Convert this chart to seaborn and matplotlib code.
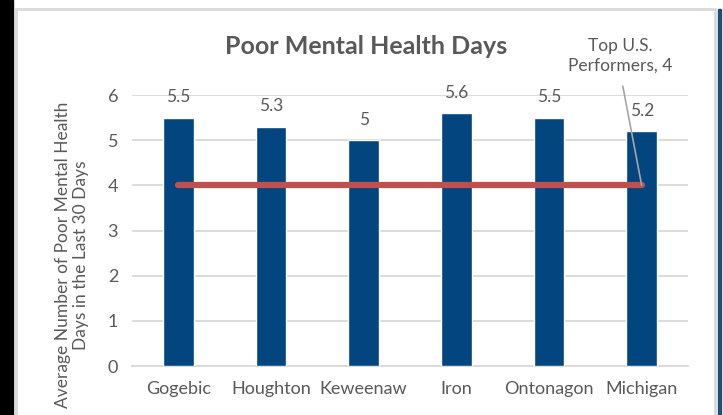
import matplotlib
matplotlib.use("Agg")
import matplotlib.pyplot as plt
import seaborn as sns
import pandas as pd
from matplotlib.patches import Rectangle

counties = ["Gogebic", "Houghton", "Keweenaw", "Iron", "Ontonagon", "Michigan"]
values = [5.5, 5.3, 5.0, 5.6, 5.5, 5.2]
value_labels = ["5.5", "5.3", "5", "5.6", "5.5", "5.2"]
benchmark = 4
benchmark_label = "Top U.S.\nPerformers, 4"
yticks = [0, 1, 2, 3, 4, 5, 6]
title = "Poor Mental Health Days"
ylabel = "Average Number of Poor Mental Health\nDays in the Last 30 Days"

BAR = "#02457F"
RED = "#C0504D"
TXT = "#595959"
GRID = "#D9D9D9"

sns.set_theme(style="white")
plt.rcParams["font.family"] = ["Lato", "DejaVu Sans"]

fig = plt.figure(figsize=(7.23, 4.15), dpi=100)
fig.patch.set_facecolor("white")
# frame decorations
fig.add_artist(Rectangle((0, 0), 13/723, 1, transform=fig.transFigure, color="black", zorder=0))
fig.add_artist(Rectangle((16/723, -0.05), (715-16)/723, 1.05 - 9/415, transform=fig.transFigure,
                         fill=False, edgecolor="#D9D9D9", linewidth=2, zorder=0))
fig.add_artist(Rectangle((718/723, 0), 3/723, 1 - 9/415, transform=fig.transFigure, color="#1F4E79", zorder=0))

ax = fig.add_axes([132/723, 1 - 366/415, (688-132)/723, (366-95)/415])
df = pd.DataFrame({"county": counties, "value": values})
sns.barplot(data=df, x="county", y="value", color=BAR, width=0.33, saturation=1, ax=ax, zorder=3)

ax.plot(range(len(counties)), [benchmark]*len(counties), color=RED, linewidth=4.5,
        solid_capstyle="round", zorder=4)

for i, (v, lab) in enumerate(zip(values, value_labels)):
    ax.annotate(lab, xy=(i, v), xytext=(0, 9), textcoords="offset points",
                ha="center", va="bottom", fontsize=12.5, color=TXT)

ax.annotate(benchmark_label, xy=(len(counties)-1, benchmark), xytext=(4.77, 6.87),
            ha="center", va="center", fontsize=12.5, color=TXT, linespacing=1.25,
            arrowprops=dict(arrowstyle="-", color="#A6A6A6", lw=1.2, relpos=(0.5, 0), shrinkA=7, shrinkB=0),
            annotation_clip=False, zorder=5)

ax.set_ylim(0, 6)
ax.set_xlim(-0.5, len(counties) - 0.5)
ax.set_yticks(yticks)
ax.yaxis.grid(True, color=GRID, linewidth=1.3, zorder=0)
ax.set_axisbelow(True)
for s in ["top", "right", "left"]:
    ax.spines[s].set_visible(False)
ax.spines["bottom"].set_color(GRID)
ax.spines["bottom"].set_linewidth(1.3)
ax.tick_params(axis="both", length=0, labelsize=13, colors=TXT, pad=10)
ax.tick_params(axis="x", pad=11)
ax.set_xlabel("")
ax.set_ylabel(ylabel, fontsize=12.5, color=TXT, linespacing=1.15)
ax.yaxis.set_label_coords(-0.077, 0.41)
fig.text(366/723, 1 - 47/415, title, ha="center", va="center", fontsize=18, fontweight="bold", color=TXT)

fig.savefig("out.png", dpi=100, facecolor="white")
